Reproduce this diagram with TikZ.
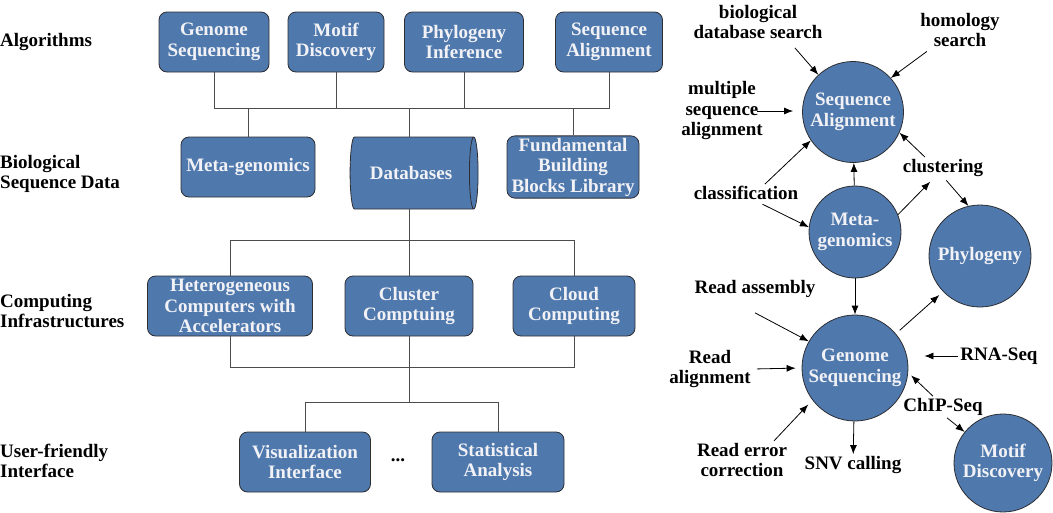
\documentclass[tikz,border=0pt]{standalone}
\usepackage{fontspec}
\setmainfont{Liberation Serif}
\usetikzlibrary{arrows.meta, positioning, shapes.geometric, calc}

\definecolor{boxblue}{RGB}{79,121,173}
\definecolor{boxline}{RGB}{45,45,50}
\definecolor{boxtext}{RGB}{242,242,246}

\begin{document}
\begin{tikzpicture}[x=1pt, y=-1pt,
    font=\fontsize{19}{20.5}\selectfont\bfseries,
    box/.style={draw=boxline, fill=boxblue, text=boxtext, rounded corners=8pt,
                minimum height=60pt, inner sep=2pt, align=center, line width=0.8pt},
    circ/.style={circle, draw=boxline, fill=boxblue, text=boxtext,
                 inner sep=0pt, align=center, line width=0.8pt},
    tag/.style={align=center, inner sep=2pt},
    row/.style={anchor=west, align=left, inner sep=0pt},
    wire/.style={draw=black!70, line width=0.8pt},
    arr/.style={-{Latex[length=9pt,width=7pt]}, line width=0.8pt}]
  \useasboundingbox (0,0) rectangle (1053,512);

  % layer titles
  \node[row] (lalg) at (0,42) {Algorithms};
  \node[row] (lbio) at (0,174) {Biological\\Sequence Data};
  \node[row] (lcmp) at (0,311) {Computing\\Infrastructures};
  \node[row] (lusr) at (0,461) {User-friendly\\Interface};

  % algorithms
  \node[box, minimum width=110pt] (gsq) at (214,42) {Genome\\Sequencing};
  \node[box, minimum width=96pt] (mtf) at (336,42) {Motif\\Discovery};
  \node[box, minimum width=119pt] (phi) at (464,42) {Phylogeny\\Inference};
  \node[box, minimum width=107pt] (sqa) at (609,42) {Sequence\\Alignment};

  % data
  \node[box, minimum width=134pt] (meta) at (248,167) {Meta-genomics};
  \node[cylinder, draw=boxline, fill=boxblue, text=boxtext, line width=0.8pt,
        minimum height=128pt, minimum width=72pt, aspect=0.5,
        inner sep=2pt] (dbs) at (411,173) {Databases};
  \node[box, minimum width=132pt] (fbb) at (573,167)
    {Fundamental\\Building\\Blocks Library};

  % infrastructures
  \node[box, minimum width=165pt] (het) at (230,306)
    {Heterogeneous\\Computers with\\Accelerators};
  \node[box, minimum width=128pt] (clu) at (409,306) {Cluster\\Comptuing};
  \node[box, minimum width=122pt] (cld) at (574,306) {Cloud\\Computing};

  % interface
  \node[box, minimum width=131pt] (vis) at (305,462) {Visualization\\Interface};
  \node[box, minimum width=132pt] (sta) at (498,462) {Statistical\\Analysis};
  \node[tag] (dots) at (398,460) {...};

  % tree wiring
  \coordinate (bus1) at (0,108);
  \coordinate (bus2) at (0,240);
  \coordinate (bus3) at (0,367);
  \coordinate (bus4) at (0,402);
  \draw[wire] (gsq.south) |- (bus1 -| sqa.south) -- (sqa.south);
  \foreach \n in {mtf, phi}
    \draw[wire] (\n.south) -- (\n.south |- bus1);
  \foreach \n in {meta, fbb}
    \draw[wire] (\n.north) -- (\n.north |- bus1);
  \draw[wire] (dbs.north -| clu) -- (bus1 -| clu);
  \draw[wire] (dbs.south -| clu) -- (bus2 -| clu);
  \draw[wire] (het.north) |- (bus2 -| cld.north) -- (cld.north);
  \draw[wire] (clu.north) -- (clu.north |- bus2);
  \draw[wire] (het.south) |- (bus3 -| cld.south) -- (cld.south);
  \draw[wire] (clu.south) -- (clu.south |- bus4);
  \draw[wire] (vis.north) |- (bus4 -| sta.north) -- (sta.north);

  % application map
  \node[circ, minimum size=101pt] (sqa2) at (853,112) {Sequence\\Alignment};
  \node[circ, minimum size=92pt] (met2) at (855,232) {Meta-\\genomics};
  \node[circ, minimum size=102pt] (phy2) at (980,256) {Phylogeny};
  \node[circ, minimum size=106pt] (gen2) at (855,368) {Genome\\Sequencing};
  \node[circ, minimum size=98pt] (mot2) at (1003,463) {Motif\\Discovery};

  \node[tag] (lbds) at (758,22) {biological\\database search};
  \node[tag] (lhom) at (960,30) {homology\\search};
  \node[tag] (lmsa) at (722,111) {multiple\\sequence\\alignment};
  \node[tag] (lcls) at (746,193) {classification};
  \node[tag] (lclu) at (943,168) {clustering};
  \node[tag] (lras) at (755,289) {Read assembly};
  \node[tag] (lral) at (710,369) {Read\\alignment};
  \node[tag] (lrna) at (999,356) {RNA-Seq};
  \node[tag] (lchp) at (943,407) {ChIP-Seq};
  \node[tag] (lrec) at (742,460) {Read error\\correction};
  \node[tag] (lsnv) at (853,465) {SNV calling};

  \draw[arr, shorten <=9pt] ([xshift=31pt]lbds.south) -- (sqa2.133);
  \draw[arr, shorten <=4pt] ([xshift=-30pt]lhom.south) -- (sqa2.42);
  \draw[arr, shorten <=-8pt, shorten >=9pt] (lmsa.east) -- (lmsa.east -| sqa2.west);
  \draw[arr] ([xshift=19pt]lcls.north) -- (sqa2.214);
  \draw[arr, shorten <=5pt] ([xshift=12pt]lcls.south) -- (met2.174);
  \draw[arr] (met2) -- (sqa2);
  \draw[arr] ([xshift=-18pt]lclu.north) -- (sqa2.336);
  \draw[arr, shorten >=4pt] (met2.22) -- ([xshift=-10pt]lclu.south);
  \draw[arr, shorten <=2pt] ([xshift=2pt]lclu.south) -- (phy2.103);

  \draw[arr] (met2) -- (gen2);
  \draw[arr] ([yshift=-13pt]lras.south) -- (gen2.150);
  \draw[arr, shorten <=4pt, shorten >=6pt] (lral.east) -- (gen2.west);
  \draw[arr, shorten >=16pt] (lrna.west) -- (lrna.west -| gen2.east);
  \draw[arr, shorten <=5pt, shorten >=5pt] (gen2.40) -- (phy2.224);
  \draw[arr, shorten >=4pt] ([xshift=-10pt]lchp.north) -- (gen2.-5);
  \draw[arr] ([xshift=4pt]lchp.south) -- (mot2.141);
  \draw[arr, shorten >=6pt] ([xshift=32pt]lrec.north) -- (gen2.217);
  \draw[arr] (gen2) -- (lsnv);
\end{tikzpicture}
\end{document}
